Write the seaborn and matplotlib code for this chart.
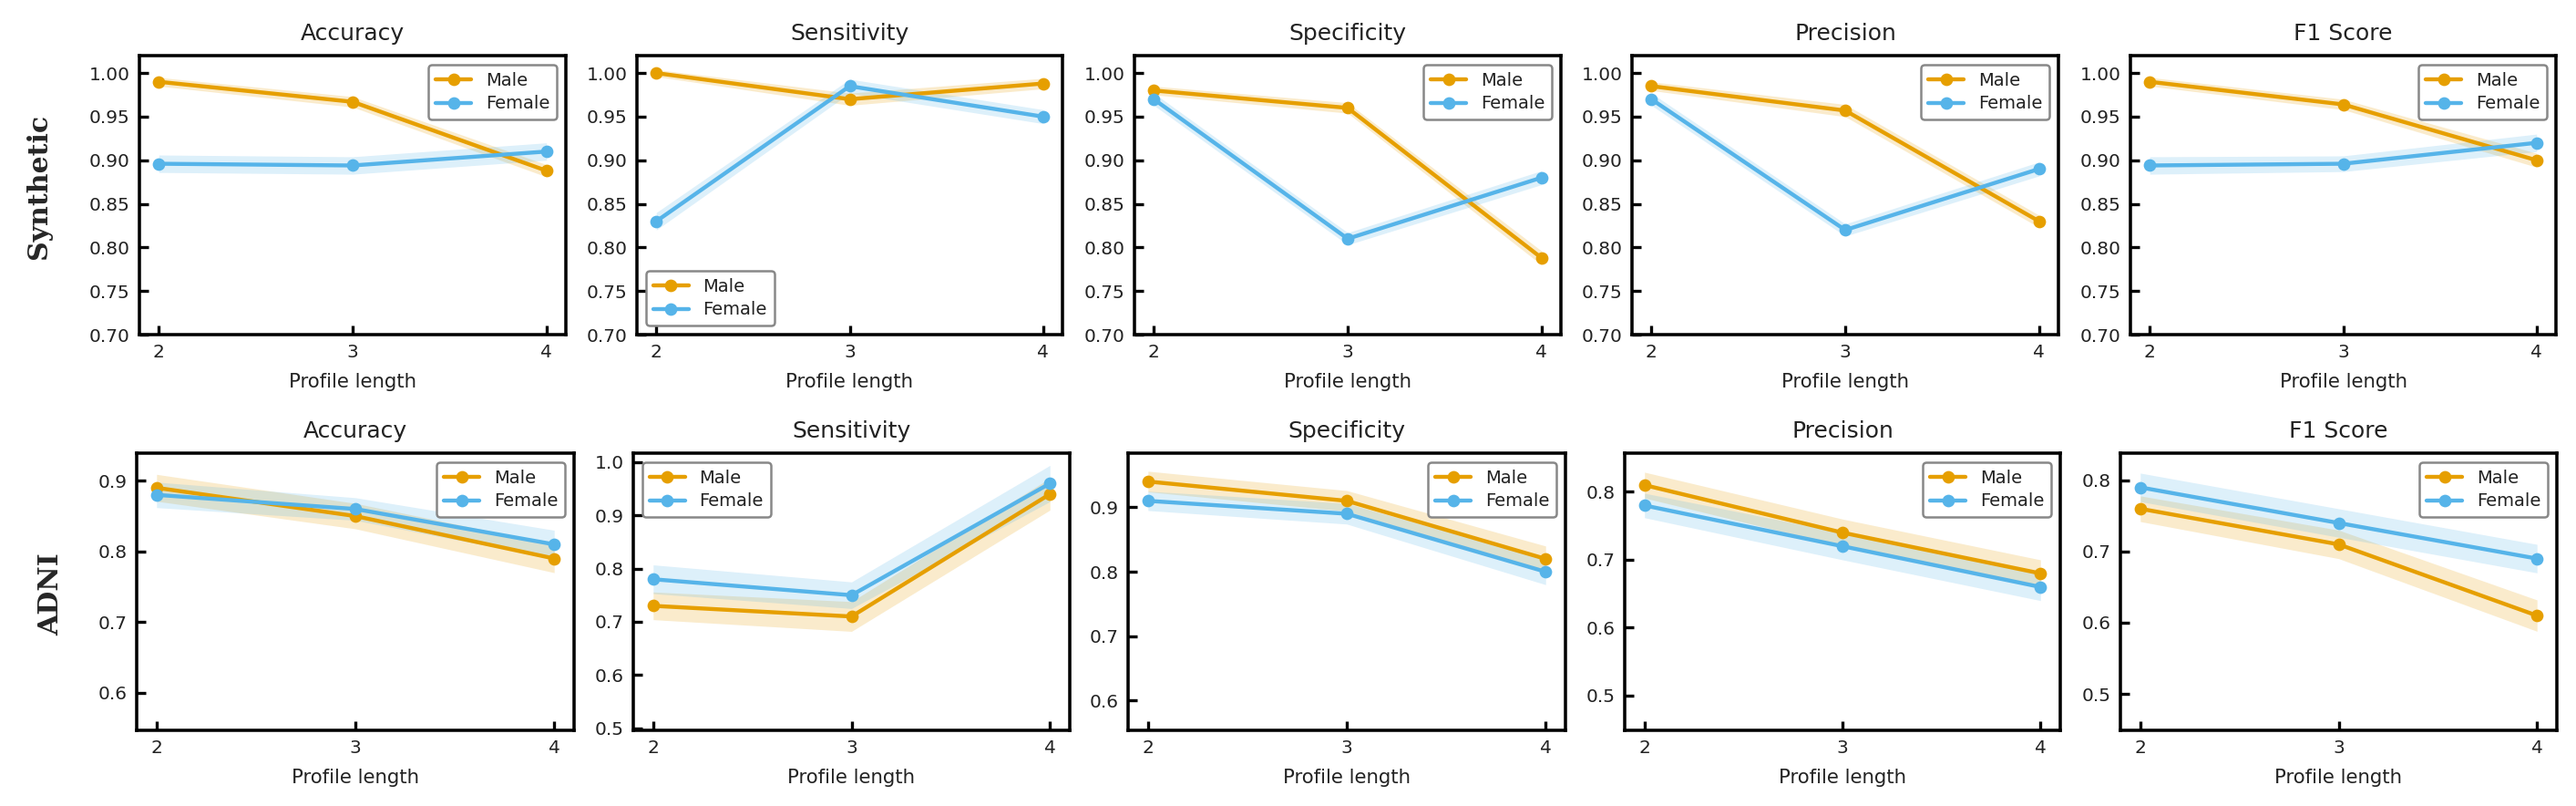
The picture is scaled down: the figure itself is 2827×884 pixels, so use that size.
import matplotlib
matplotlib.use("Agg")
import matplotlib.pyplot as plt
from matplotlib.lines import Line2D
import numpy as np
import pandas as pd
import seaborn as sns

# ---------------- data ----------------
profile_length = [2, 3, 4]
metrics = ["Accuracy", "Sensitivity", "Specificity", "Precision", "F1 Score"]
datasets = ["Synthetic", "ADNI"]
groups = ["Male", "Female"]

syn_male = {
    "Accuracy":    [0.990, 0.967, 0.888],
    "Sensitivity": [1.000, 0.970, 0.988],
    "Specificity": [0.980, 0.960, 0.788],
    "Precision":   [0.985, 0.957, 0.830],
    "F1 Score":    [0.990, 0.964, 0.900],
}
syn_female = {
    "Accuracy":    [0.896, 0.894, 0.910],
    "Sensitivity": [0.830, 0.985, 0.950],
    "Specificity": [0.970, 0.810, 0.880],
    "Precision":   [0.970, 0.820, 0.890],
    "F1 Score":    [0.894, 0.896, 0.920],
}
adni_male = {
    "Accuracy":    [0.89, 0.85, 0.79],
    "Sensitivity": [0.73, 0.71, 0.94],
    "Specificity": [0.94, 0.91, 0.82],
    "Precision":   [0.81, 0.74, 0.68],
    "F1 Score":    [0.76, 0.71, 0.61],
}
adni_female = {
    "Accuracy":    [0.88, 0.86, 0.81],
    "Sensitivity": [0.78, 0.75, 0.96],
    "Specificity": [0.91, 0.89, 0.80],
    "Precision":   [0.78, 0.72, 0.66],
    "F1 Score":    [0.79, 0.74, 0.69],
}
# half-widths of the shaded bands
syn_male_err = {
    "Accuracy":    [0.005, 0.006, 0.007],
    "Sensitivity": [0.004, 0.007, 0.006],
    "Specificity": [0.005, 0.006, 0.008],
    "Precision":   [0.005, 0.007, 0.007],
    "F1 Score":    [0.005, 0.006, 0.008],
}
syn_female_err = {
    "Accuracy":    [0.010, 0.010, 0.010],
    "Sensitivity": [0.010, 0.008, 0.008],
    "Specificity": [0.007, 0.007, 0.008],
    "Precision":   [0.007, 0.007, 0.008],
    "F1 Score":    [0.010, 0.009, 0.010],
}
adni_male_err = {
    "Accuracy":    [0.019, 0.018, 0.020],
    "Sensitivity": [0.026, 0.028, 0.030],
    "Specificity": [0.016, 0.016, 0.020],
    "Precision":   [0.019, 0.020, 0.020],
    "F1 Score":    [0.018, 0.020, 0.022],
}
adni_female_err = {
    "Accuracy":    [0.018, 0.016, 0.020],
    "Sensitivity": [0.027, 0.025, 0.034],
    "Specificity": [0.015, 0.016, 0.020],
    "Precision":   [0.018, 0.020, 0.020],
    "F1 Score":    [0.020, 0.020, 0.020],
}

syn_ylims = {m: (0.70, 1.02) for m in metrics}
adni_ylims = {
    "Accuracy":    (0.547, 0.939),
    "Sensitivity": (0.496, 1.017),
    "Specificity": (0.554, 0.984),
    "Precision":   (0.449, 0.857),
    "F1 Score":    (0.449, 0.838),
}
syn_yticks = [0.70, 0.75, 0.80, 0.85, 0.90, 0.95, 1.00]
adni_yticks = {
    "Accuracy":    [0.6, 0.7, 0.8, 0.9],
    "Sensitivity": [0.5, 0.6, 0.7, 0.8, 0.9, 1.0],
    "Specificity": [0.6, 0.7, 0.8, 0.9],
    "Precision":   [0.5, 0.6, 0.7, 0.8],
    "F1 Score":    [0.5, 0.6, 0.7, 0.8],
}
legend_locs = {
    "Synthetic": ["upper right", "lower left", "upper right", "upper right", "upper right"],
    "ADNI":      ["upper right", "upper left", "upper right", "upper right", "upper right"],
}

colors = {"Male": "#E69F00", "Female": "#56B4E9"}

# ---------------- long table ----------------
rows = []
for ds, male, female, merr, ferr in [
    ("Synthetic", syn_male, syn_female, syn_male_err, syn_female_err),
    ("ADNI", adni_male, adni_female, adni_male_err, adni_female_err),
]:
    for m in metrics:
        for sex, vals, errs in [("Male", male[m], merr[m]), ("Female", female[m], ferr[m])]:
            for x, v, e in zip(profile_length, vals, errs):
                rows.append({"Dataset": ds, "Metric": m, "Sex": sex,
                             "Profile length": x, "value": v, "err": e})
df = pd.DataFrame(rows)

# ---------------- style ----------------
sns.set_theme(style="white")
plt.rcParams["font.family"] = ["DejaVu Sans"]

W, H = 2827, 884
fig = plt.figure(figsize=(W / 300, H / 300), dpi=300)

# axes pixel boxes (left, right) and (top, bottom)
row_boxes = {
    "Synthetic": [(153, 621), (699, 1166), (1245, 1713), (1791, 2259), (2338, 2805)],
    "ADNI":      [(150, 630), (695, 1174), (1238, 1718), (1783, 2261), (2327, 2806)],
}
row_tb = {"Synthetic": (61, 367), "ADNI": (497, 801)}

for ds in datasets:
    top, bot = row_tb[ds]
    for j, m in enumerate(metrics):
        l, r = row_boxes[ds][j]
        ax = fig.add_axes([l / W, 1 - bot / H, (r - l) / W, (bot - top) / H])
        sub = df[(df.Dataset == ds) & (df.Metric == m)]
        for sex in groups:
            s = sub[sub.Sex == sex]
            ax.fill_between(s["Profile length"], s["value"] - s["err"],
                            s["value"] + s["err"], color=colors[sex], alpha=0.2,
                            linewidth=0)
        sns.lineplot(data=sub, x="Profile length", y="value", hue="Sex",
                     hue_order=groups, palette=colors, marker="o",
                     markersize=3.3, markeredgewidth=0, linewidth=1.05,
                     errorbar=None, legend=False, ax=ax)
        ax.set_xticks(profile_length)
        ax.set_xticklabels([str(x) for x in profile_length])
        if ds == "Synthetic":
            ax.set_ylim(*syn_ylims[m])
            ax.set_yticks(syn_yticks)
            ax.set_yticklabels([f"{t:.2f}" for t in syn_yticks])
        else:
            ax.set_ylim(*adni_ylims[m])
            ax.set_yticks(adni_yticks[m])
            ax.set_yticklabels([f"{t:.1f}" for t in adni_yticks[m]])
        ax.set_xlim(1.9, 4.1)
        ax.set_title(m, fontsize=6.0, pad=4, color="#222222")
        ax.set_xlabel("Profile length", fontsize=5.1, labelpad=3, color="#222222")
        ax.set_ylabel("")
        ax.tick_params(axis="both", direction="in", length=2.3, width=0.8,
                       labelsize=4.85, pad=2.5, colors="black", labelcolor="#222222",
                       left=True, bottom=True, top=False, right=False)
        for sp in ax.spines.values():
            sp.set_visible(True)
            sp.set_color("black")
            sp.set_linewidth(0.85)
        handles = [Line2D([], [], color=colors[g], marker="o", markersize=3.3,
                          markeredgewidth=0, linewidth=1.05, label=g) for g in groups]
        leg = ax.legend(handles=handles, loc=legend_locs[ds][j], fontsize=4.7,
                        frameon=True, fancybox=True, edgecolor="#888888",
                        framealpha=1.0, handlelength=2.0, borderpad=0.4,
                        labelspacing=0.35)
        leg.get_frame().set_linewidth(0.6)
        for t in leg.get_texts():
            t.set_color("#222222")

fig.text(43 / W, 1 - 204 / H, "Synthetic", rotation=90, ha="center", va="center",
         fontfamily="DejaVu Serif", fontweight="bold", fontsize=7.2)
fig.text(56 / W, 1 - 652 / H, "ADNI", rotation=90, ha="center", va="center",
         fontfamily="DejaVu Serif", fontweight="bold", fontsize=7.2)

fig.savefig("out.png", dpi=300)
